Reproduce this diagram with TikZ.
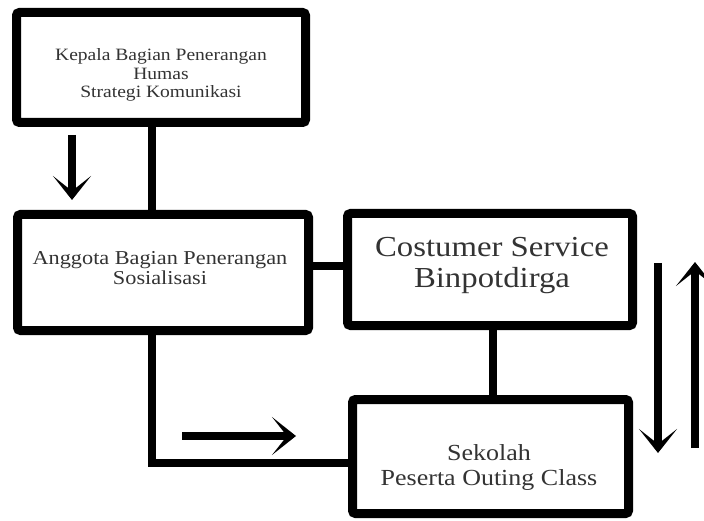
\documentclass[tikz,border=0pt]{standalone}
\usepackage{fontspec}
\setmainfont{Liberation Serif}[FakeStretch=1.13]
\usetikzlibrary{arrows.meta}
\tikzset{
  box/.style={draw=black, line width=9pt, rounded corners=3pt, inner sep=0pt, outer sep=0pt, fill=white},
  conn/.style={draw=black, line width=8pt},
  bigarrow/.style={draw=black, line width=8pt, -{Stealth[length=24pt,width=38pt,inset=15pt]}},
  lbl/.style={text=black!80, align=center, inner sep=0pt}
}
\begin{document}
\begin{tikzpicture}[x=1pt,y=-1pt]
\useasboundingbox (0,0) rectangle (704,521);
% named helper coordinates
\coordinate (v1) at (152,0);
\coordinate (v2) at (493,0);
\coordinate (h1) at (0,266);
\coordinate (h2) at (0,463);
% boxes
\node[box, minimum width=289pt, minimum height=110pt] (b1) at (161,67.5) {};
\node[box, minimum width=291pt, minimum height=116pt] (b2) at (163,272.5) {};
\node[box, minimum width=285pt, minimum height=112pt] (b3) at (490,269.5) {};
\node[box, minimum width=276pt, minimum height=114pt] (b4) at (490.5,456.5) {};
% connectors
\draw[conn] (b1.south -| v1) -- (b2.north -| v1);
\draw[conn] (b2.east |- h1) -- (b3.west |- h1);
\draw[conn] (b3.south -| v2) -- (b4.north -| v2);
\draw[conn, line join=miter] (b2.south -| v1) |- (b4.west |- h2);
% texts
\node[lbl, font=\fontsize{17.3}{18.5}\selectfont] (t1) at (161,75) {Kepala Bagian Penerangan\\Humas\\Strategi Komunikasi};
\node[lbl, font=\fontsize{19.7}{19.5}\selectfont] (t2) at (160,268) {Anggota Bagian Penerangan\\Sosialisasi};
\node[lbl, font=\fontsize{29}{31}\selectfont] (t3) at (492,266) {Costumer Service\\Binpotdirga};
\node[lbl, font=\fontsize{23}{25}\selectfont] (t4) at (489,468) {Sekolah\\Peserta Outing Class};
% free arrows
\coordinate (a1s) at (72,135);
\coordinate (a1e) at (72,200);
\coordinate (a2s) at (182,436);
\coordinate (a2e) at (296,436);
\coordinate (a3s) at (658,263);
\coordinate (a3e) at (658,453);
\coordinate (a4s) at (695,448);
\coordinate (a4e) at (695,262);
\draw[bigarrow] (a1s) -- (a1e);
\draw[bigarrow] (a2s) -- (a2e);
\draw[bigarrow] (a3s) -- (a3e);
\draw[bigarrow] (a4s) -- (a4e);
\end{tikzpicture}
\end{document}
